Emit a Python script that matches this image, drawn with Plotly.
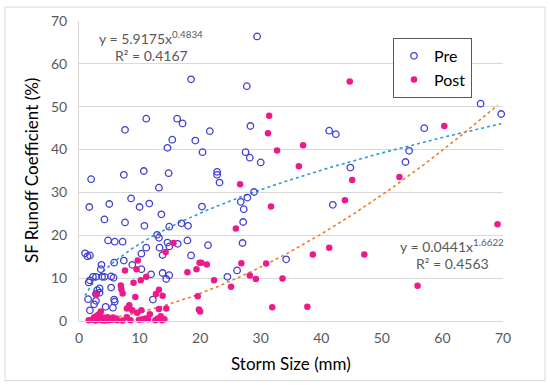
import numpy as np
import plotly.graph_objects as go

# ---- data ----
pre_x = [29.4, 18.5, 27.7, 11.1, 16.2, 17.1, 28.3, 7.6, 21.6, 15.4, 19.2, 14.6, 20.4, 27.5, 28.2, 30.0,
         2.0, 7.4, 10.7, 14.8, 22.8, 22.8, 23.2, 13.2, 66.3, 69.7, 57.0, 41.3, 42.4, 44.8, 54.5, 53.9,
         41.9, 34.2, 28.9, 27.8, 26.7, 27.2, 27.1, 27.0, 21.3, 24.5, 26.1, 1.7, 5.0, 8.6, 10.0, 11.6,
         4.2, 7.6, 10.8, 13.6, 14.9, 16.9, 18.0, 20.3, 12.9, 13.2, 14.6, 14.9, 16.3, 17.9, 18.5, 11.1,
         13.3, 13.8, 10.3, 10.3, 11.9, 13.8, 14.9, 14.4, 12.2, 4.8, 5.9, 7.2, 1.0, 1.4, 1.8, 3.7,
         3.6, 5.8, 7.4, 8.8, 2.3, 2.8, 1.8, 1.6, 3.8, 4.2, 5.3, 5.7, 3.4, 3.0, 3.4, 2.8,
         5.3, 1.5, 2.8, 5.8, 5.9, 4.4, 5.6, 1.8, 2.5]
pre_y = [66.4, 56.4, 54.8, 47.2, 47.2, 46.1, 45.5, 44.6, 44.3, 42.3, 42.1, 40.4, 39.4, 39.4, 38.1, 37.0,
         33.1, 34.1, 35.0, 34.5, 34.8, 34.1, 32.3, 31.1, 50.7, 48.3, 45.0, 44.4, 43.6, 35.8, 39.7, 37.1,
         27.1, 14.4, 30.1, 28.8, 27.8, 26.1, 23.1, 18.2, 17.7, 10.3, 11.8, 26.6, 27.3, 28.6, 26.6, 27.4,
         23.7, 23.0, 22.2, 24.9, 22.0, 22.8, 22.2, 26.7, 20.1, 19.4, 18.3, 17.4, 18.0, 18.8, 15.3, 17.1,
         17.1, 15.4, 15.7, 12.1, 10.9, 11.2, 10.7, 9.8, 5.0, 18.8, 18.5, 18.5, 15.8, 15.1, 15.3, 13.1,
         12.1, 13.6, 14.1, 13.1, 10.3, 10.3, 9.5, 9.0, 10.3, 10.3, 10.4, 10.1, 7.6, 7.2, 6.6, 6.3,
         7.8, 5.1, 4.7, 5.0, 4.5, 3.3, 3.1, 2.5, 3.9]

post_x = [44.7, 31.4, 31.2, 60.3, 32.7, 37.0, 36.3, 45.1, 52.9, 43.9, 69.1, 38.6, 41.3, 47.1, 33.6, 55.9,
          37.7, 26.6, 31.7, 25.9, 21.1, 26.8, 30.9, 22.3, 28.2, 29.2, 25.1, 31.9, 19.4, 19.9, 20.2, 17.9,
          19.6, 19.8, 20.0, 15.6, 14.3, 9.7, 7.6, 9.5, 11.1, 10.2, 9.0, 6.9, 7.0, 7.2, 13.2, 12.7,
          13.8, 9.3, 8.3, 7.9, 8.8, 2.8, 3.6, 3.3, 13.2, 14.4, 11.7, 10.3, 9.6,
          1.6, 2.1, 2.7, 3.2, 3.8, 4.3, 4.9, 5.5, 6.3, 7.2, 8.5, 9.9, 11.4, 10.5, 12.6, 13.0,
          14.1, 13.7, 2.5, 3.4, 4.0, 4.7, 5.6, 6.1, 7.9, 11.0, 13.5, 3.0]
post_y = [55.9, 47.9, 43.8, 45.5, 39.8, 41.0, 36.1, 32.9, 33.6, 28.2, 22.6, 15.5, 17.1, 15.5, 9.9, 8.2,
          3.3, 31.9, 26.7, 21.6, 13.2, 13.5, 13.4, 9.5, 10.6, 9.8, 8.0, 3.2, 12.1, 13.6, 13.6, 11.4,
          5.8, 2.7, 2.2, 18.2, 16.1, 14.1, 11.8, 12.1, 10.3, 9.5, 8.9, 8.3, 7.4, 6.4, 7.3, 6.3,
          5.9, 5.6, 3.7, 2.9, 2.5, 6.1, 2.2, 1.6, 2.8, 2.9, 1.6, 2.5, 1.9,
          0.2, 0.3, 0.1, 0.3, 0.2, 0.1, 0.2, 0.3, 0.2, 0.1, 0.2, 0.3, 0.4, 0.4, 0.2, 0.6,
          0.4, 0.2, 0.9, 1.0, 0.8, 0.9, 0.8, 0.6, 0.9, 0.6, 1.1, 1.3]

# power-law trendline coefficients (as printed on the chart)
pre_a, pre_b = 5.9175, 0.4834
post_a, post_b = 0.0441, 1.6622
pre_eq = "y = 5.9175x<sup>0.4834</sup>"
pre_r2 = "R² = 0.4167"
post_eq = "y = 0.0441x<sup>1.6622</sup>"
post_r2 = "R² = 0.4563"
x_title = "Storm Size (mm)"
y_title = "SF Runoff Coefficient (%)"

x_ticks = [0, 10, 20, 30, 40, 50, 60, 70]
y_ticks = [0, 10, 20, 30, 40, 50, 60, 70]

PRE_COLOR = "#3F3FD0"
POST_COLOR = "#F0198C"
FONT = "Lato, Open Sans, sans-serif"

# plot-area pixel geometry (used only to place annotations / legend)
L, R, T, B = 79, 503, 19, 321
W, H = R - L, B - T


def px(x):
    return (x - L) / W


def py(y):
    return (B - y) / H


fig = go.Figure()

# trendlines
xt_pre = np.linspace(min(pre_x), max(pre_x), 200)
xt_post = np.linspace(min(post_x), max(post_x), 200)
fig.add_trace(go.Scatter(x=xt_pre, y=pre_a * xt_pre ** pre_b, mode="lines",
                         line=dict(color="#2E9BD6", width=1.6, dash="dot"),
                         showlegend=False, hoverinfo="skip"))
fig.add_trace(go.Scatter(x=xt_post, y=post_a * xt_post ** post_b, mode="lines",
                         line=dict(color="#ED7D31", width=1.6, dash="dot"),
                         showlegend=False, hoverinfo="skip"))

fig.add_trace(go.Scatter(x=pre_x, y=pre_y, mode="markers", name="Pre", cliponaxis=False,
                         marker=dict(symbol="circle-open", size=6.5, color=PRE_COLOR,
                                     line=dict(width=1.3, color=PRE_COLOR))))
fig.add_trace(go.Scatter(x=post_x, y=post_y, mode="markers", name="Post", cliponaxis=False,
                         marker=dict(symbol="circle", size=6.5, color=POST_COLOR,
                                     line=dict(width=0))))

ann_font = dict(family=FONT, size=14, color="#595959")
annos = [
    dict(text=pre_eq, x=151, y=36),
    dict(text=pre_r2, x=151, y=54),
    dict(text=post_eq, x=452, y=245),
    dict(text=post_r2, x=452, y=263),
]
for a in annos:
    fig.add_annotation(x=px(a["x"]), y=py(a["y"]),
                       xref="paper", yref="paper", text=a["text"], showarrow=False,
                       xanchor="center", yanchor="middle", font=ann_font)

title_font = dict(family=FONT, size=17, color="#000000")
fig.add_annotation(x=px(291), y=py(364), xref="paper", yref="paper", text=x_title,
                   showarrow=False, xanchor="center", yanchor="middle", font=title_font)
fig.add_annotation(x=px(31), y=py(170), xref="paper", yref="paper", text=y_title,
                   showarrow=False, xanchor="center", yanchor="middle", textangle=-90,
                   font=title_font)

# outer chart border
fig.add_shape(type="rect", xref="paper", yref="paper",
              x0=px(5), x1=px(545), y0=py(381), y1=py(5),
              line=dict(color="#D9D9D9", width=1), fillcolor="rgba(0,0,0,0)", layer="below")

tick_font = dict(family=FONT, size=14, color="#595959")

fig.update_layout(
    width=550, height=385,
    margin=dict(l=L, r=550 - R, t=T, b=385 - B),
    paper_bgcolor="white", plot_bgcolor="white",
    showlegend=True,
    legend=dict(x=px(393), y=py(36), xanchor="left", yanchor="top",
                bordercolor="#595959", borderwidth=1, bgcolor="white",
                font=dict(family=FONT, size=16, color="#000000"),
                itemwidth=30, tracegroupgap=2),
    xaxis=dict(range=[0, 70], tickvals=x_ticks, showgrid=False, zeroline=False,
               showline=True, linecolor="#D9D9D9", linewidth=1, ticks="",
               tickfont=tick_font, ticklabelstandoff=4),
    yaxis=dict(range=[0, 70], tickvals=y_ticks, showgrid=True, gridcolor="#D9D9D9",
               gridwidth=1, zeroline=False, showline=True, linecolor="#D9D9D9",
               linewidth=1, ticks="", tickfont=tick_font, ticklabelstandoff=8),
)

fig.write_html("out.html", config={"displayModeBar": False},
               post_script="document.body.style.margin='0';")
